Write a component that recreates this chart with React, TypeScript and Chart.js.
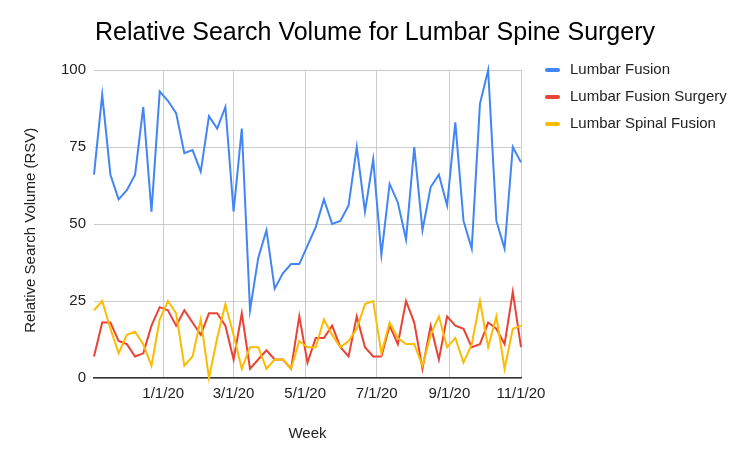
import React, { useEffect, useRef } from "react";
import { Chart, registerables } from "chart.js";

Chart.register(...registerables);

// Weekly data points (Google Trends weeks, starting Sunday 11/3/2019)
const START_DATE = "2019-11-03";
const WEEK_COUNT = 53;

const SERIES_NAMES = ["Lumbar Fusion", "Lumbar Fusion Surgery", "Lumbar Spinal Fusion"];
const SERIES_COLORS = ["#4285F4", "#EA4335", "#FBBC04"];

const lumbarFusion = [
  66, 92, 66, 58, 61, 66, 88, 54, 93, 90, 86, 73, 74, 67, 85, 81, 88, 54, 81, 22,
  39, 48, 29, 34, 37, 37, 43, 49, 58, 50, 51, 56, 75, 54, 71, 40, 63, 57, 45, 75,
  48, 62, 66, 56, 83, 51, 42, 89, 100, 51, 42, 75, 70,
];
const lumbarFusionSurgery = [
  7, 18, 18, 12, 11, 7, 8, 17, 23, 22, 17, 22, 18, 14, 21, 21, 17, 6, 21, 3,
  6, 9, 6, 6, 3, 20, 5, 13, 13, 17, 10, 7, 20, 10, 7, 7, 17, 11, 25, 18,
  3, 17, 6, 20, 17, 16, 10, 11, 18, 16, 11, 28, 10,
];
const lumbarSpinalFusion = [
  22, 25, 16, 8, 14, 15, 11, 4, 19, 25, 21, 4, 7, 19, 0, 13, 24, 14, 3, 10,
  10, 3, 6, 6, 3, 12, 10, 10, 19, 14, 10, 12, 16, 24, 25, 8, 18, 13, 11, 11,
  4, 14, 20, 10, 13, 5, 11, 25, 10, 20, 3, 16, 17,
];

const X_TICK_LABELS = ["1/1/20", "3/1/20", "5/1/20", "7/1/20", "9/1/20", "11/1/20"];
const Y_TICKS = [0, 25, 50, 75, 100];

const DAY = 86400000;
const startMs = Date.parse(START_DATE + "T00:00:00Z");
const dayOf = (label: string) => {
  const [m, d, y] = label.split("/").map(Number);
  return Math.round((Date.UTC(2000 + y, m - 1, d) - startMs) / DAY);
};
const weekDays = Array.from({ length: WEEK_COUNT }, (_, i) => i * 7);
const X_TICK_DAYS = X_TICK_LABELS.map(dayOf);

const FONT = "'Liberation Sans', Arial, Helvetica, sans-serif";
const TEXT = "#222222";

const legendPlugin = {
  id: "rightLegend",
  afterDraw(chart: any) {
    const ctx = chart.ctx;
    ctx.save();
    chart.data.datasets.forEach((ds: any, i: number) => {
      const y = 70 + i * 27;
      ctx.strokeStyle = ds.borderColor;
      ctx.lineWidth = 4;
      ctx.lineCap = "round";
      ctx.beginPath();
      ctx.moveTo(547, y);
      ctx.lineTo(558, y);
      ctx.stroke();
      ctx.fillStyle = TEXT;
      ctx.font = `15px ${FONT}`;
      ctx.textBaseline = "middle";
      ctx.textAlign = "left";
      ctx.fillText(ds.label, 570, y);
    });
    ctx.restore();
  },
};

export default function App() {
  const ref = useRef<HTMLCanvasElement | null>(null);

  useEffect(() => {
    if (!ref.current) return;
    const seriesValues = [lumbarFusion, lumbarFusionSurgery, lumbarSpinalFusion];
    const chart = new Chart(ref.current, {
      type: "line",
      data: {
        datasets: seriesValues.map((vals, s) => ({
          label: SERIES_NAMES[s],
          data: vals.map((v, i) => ({ x: weekDays[i], y: v })),
          borderColor: SERIES_COLORS[s],
          backgroundColor: SERIES_COLORS[s],
          borderWidth: 2,
          pointRadius: 0,
          tension: 0,
          clip: false as any,
          order: 3 - s,
        })),
      },
      options: {
        responsive: false,
        animation: false,
        devicePixelRatio: 1,
        layout: { padding: 0 },
        plugins: {
          legend: { display: false },
          tooltip: { enabled: false },
          title: {
            display: true,
            text: "Relative Search Volume for Lumbar Spine Surgery",
            color: "#000000",
            font: { family: FONT, size: 25, weight: "normal" as any },
            padding: { top: 18, bottom: 22 },
          },
        },
        scales: {
          x: {
            type: "linear",
            min: 0,
            max: weekDays[weekDays.length - 1],
            afterFit: (scale: any) => {
              scale.height = 83;
            },
            afterBuildTicks: (scale: any) => {
              scale.ticks = X_TICK_DAYS.map((v) => ({ value: v }));
            },
            ticks: {
              autoSkip: false,
              maxRotation: 0,
              padding: 7,
              color: TEXT,
              font: { family: FONT, size: 15 },
              callback: (value: any) => {
                const idx = X_TICK_DAYS.indexOf(Number(value));
                return idx >= 0 ? X_TICK_LABELS[idx] : "";
              },
            },
            grid: { color: "#cccccc", lineWidth: 1, drawTicks: false },
            border: { display: true, color: "#333333", width: 1.5 },
            title: {
              display: true,
              text: "Week",
              color: TEXT,
              font: { family: FONT, size: 15 },
              padding: { top: 0, bottom: 18 },
            },
          },
          y: {
            min: 0,
            max: 100,
            afterFit: (scale: any) => {
              scale.width = 94;
            },
            afterBuildTicks: (scale: any) => {
              scale.ticks = Y_TICKS.map((v) => ({ value: v }));
            },
            ticks: {
              padding: 8,
              color: TEXT,
              font: { family: FONT, size: 15 },
            },
            grid: { color: "#cccccc", lineWidth: 1, drawTicks: false },
            border: { display: false },
            title: {
              display: true,
              text: "Relative Search Volume (RSV)   ",
              color: TEXT,
              font: { family: FONT, size: 15 },
              padding: { top: 22, bottom: 0 },
            },
          },
          legendSpace: {
            type: "linear",
            position: "right",
            min: 0,
            max: 100,
            afterFit: (scale: any) => {
              scale.width = 229;
            },
            ticks: { display: false },
            grid: { display: false, drawTicks: false },
            border: { display: false },
          },
        },
      },
      plugins: [legendPlugin],
    });
    return () => chart.destroy();
  }, []);

  return (
    <div style={{ position: "fixed", left: 0, top: 0, width: 750, height: 461, background: "#fff" }}>
      <canvas ref={ref} width={750} height={461} style={{ display: "block" }} />
    </div>
  );
}
